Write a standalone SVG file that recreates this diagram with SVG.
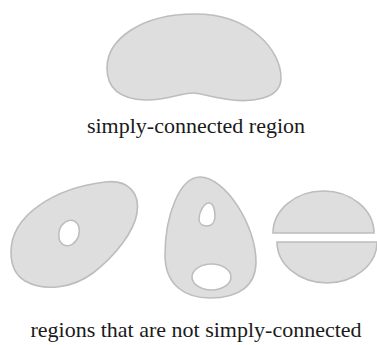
<svg xmlns="http://www.w3.org/2000/svg" width="377" height="345" viewBox="0 0 377 345">
<style>
.r{fill:#dedede;stroke:#bdbdbd;stroke-width:1.6;fill-rule:evenodd}
.h{fill:#ffffff;stroke:#bdbdbd;stroke-width:1.6}
.t{font-family:"Liberation Serif","Times New Roman",serif;font-size:22px;fill:#1a1a1a;text-anchor:middle}
</style>
<rect width="377" height="345" fill="#ffffff"/>
<g id="simply-connected">
<path class="r" d="M107,68 C107,40 140,14 195,14 C250,14 281,50 281,78 C281,100 250,103 225,99 C210,97 200,93 193,93 C180,93 165,101 145,100 C120,99 107,88 107,68 Z"/>
<text class="t" x="196" y="133">simply-connected region</text>
</g>
<g id="region-one-hole">
<path class="r" d="M11,252 C11,215 55,188 105,182 C130,179 140,195 137,213 C134,232 115,256 93,273 C73,288 45,292 25,281 C15,275 11,264 11,252 Z"/>
<ellipse class="h" cx="69" cy="233" rx="10" ry="13" transform="rotate(20 69 233)"/>
</g>
<g id="region-two-holes">
<path class="r" d="M200,177 C180,177 165,215 165,255 C165,285 185,298 210,298 C240,298 256,285 256,262 C256,225 225,177 200,177 Z"/>
<path class="h" d="M209,203 C204,203 199,212 199,219 C199,224 203,226 207,226 C212,226 215,222 215,216 C215,209 213,203 209,203 Z"/>
<ellipse class="h" cx="211.5" cy="277" rx="19.5" ry="13"/>
</g>
<g id="region-split">
<path class="r" d="M273,233 A50.5,42 0 0 1 374,233 Z"/>
<path class="r" d="M277,242 L377,242 A50,41 0 0 1 277,242 Z"/>
</g>
<text class="t" x="196" y="337">regions that are not simply-connected</text>
</svg>
